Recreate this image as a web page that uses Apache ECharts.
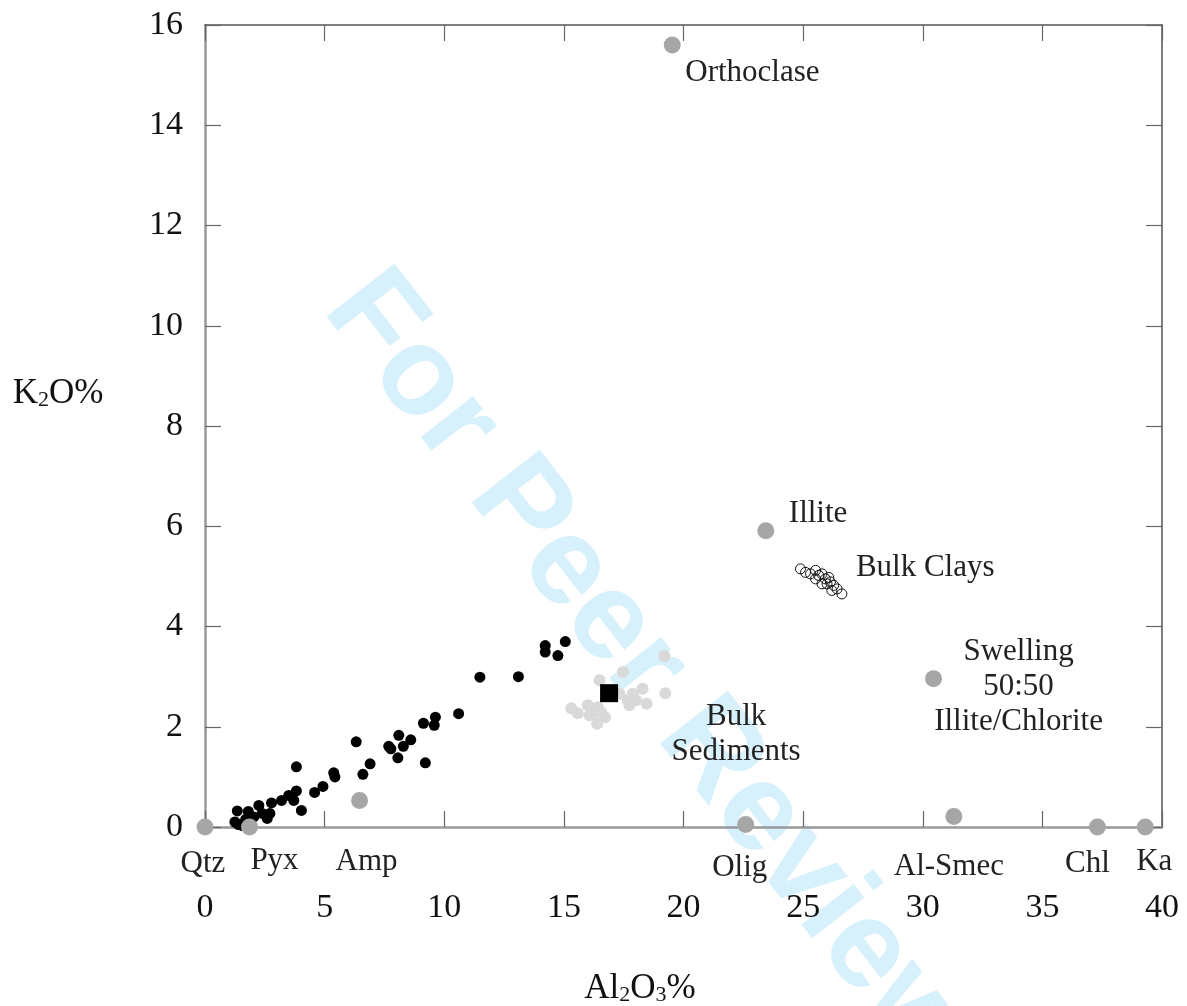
<!DOCTYPE html>
<html>
<head>
<meta charset="utf-8">
<script src="https://cdn.jsdelivr.net/npm/echarts@6/dist/echarts.min.js"></script>
<style>
  html, body { margin: 0; padding: 0; background: #fff; }
  #chart { width: 1187px; height: 1006px; }
</style>
</head>
<body>
<div id="chart"></div>
<script>
// end-member minerals (grey)
const mineralNames = ['Qtz', 'Pyx', 'Amp', 'Orthoclase', 'Illite', 'Swelling\n50:50\nIllite/Chlorite', 'Olig', 'Al-Smec', 'Chl', 'Ka'];
const mineralAl = [0, 1.86, 6.46, 19.53, 23.44, 30.45, 22.6, 31.3, 37.3, 39.3];
const mineralK = [0, 0.0, 0.53, 15.6, 5.91, 2.96, 0.05, 0.21, 0.0, 0.0];

// black dots
const rockAl = [15.06, 14.22, 14.22, 14.75, 11.49, 13.1, 10.6, 9.63, 9.58, 9.13, 8.1, 8.6, 7.68, 8.29, 7.77, 8.06, 9.21,
  6.32, 6.9, 6.6, 5.38, 5.43, 4.93, 4.58, 3.82, 3.82, 4.03, 3.5, 3.2, 3.71, 2.78, 2.71, 2.6, 2.25, 1.81, 1.35, 1.25, 1.56,
  2.04, 1.4, 1.7, 1.9, 2.39];
const rockK = [3.70, 3.62, 3.49, 3.42, 2.99, 3.00, 2.26, 2.19, 2.03, 2.07, 1.83, 1.74, 1.61, 1.61, 1.56, 1.38, 1.28,
  1.70, 1.26, 1.05, 1.08, 1.00, 0.81, 0.69, 1.20, 0.72, 0.33, 0.63, 0.53, 0.53, 0.48, 0.27, 0.17, 0.43, 0.31, 0.32, 0.10, 0.03,
  0.20, 0.05, 0.15, 0.10, 0.27];

// bulk sediments (light grey)
const sedAl = [19.21, 17.46, 16.49, 18.29, 19.24, 17.88, 17.67, 18.02, 18.46, 17.74, 17.32, 15.31, 15.58, 16.0, 16.42, 16.21, 16.56, 16.72, 16.39, 16.07];
const sedK = [3.41, 3.09, 2.93, 2.76, 2.67, 2.66, 2.53, 2.53, 2.46, 2.43, 2.66, 2.37, 2.27, 2.43, 2.39, 2.26, 2.29, 2.19, 2.06, 2.23];

// bulk clays (open circles)
const clayAl = [24.89, 25.1, 25.31, 25.52, 25.65, 25.79, 25.93, 26.0, 26.14, 26.28, 26.42, 25.79, 25.52, 26.07, 26.2, 26.62];
const clayK = [5.15, 5.08, 5.05, 5.12, 5.02, 5.05, 4.95, 4.85, 4.89, 4.82, 4.75, 4.85, 4.95, 4.98, 4.72, 4.65];

// average (black square)
const avgAl = [16.89];
const avgK = [2.67];

const xTicks = [0, 40, 5];
const yTicks = [0, 16, 2];

const serif = 'Liberation Serif';
const zip = (a, b) => a.map((v, i) => [v, b[i]]);

// label placement for mineral names, offsets in px
const labelPlace = {
  'Qtz': { offset: [-2, 37], align: 'center' },
  'Pyx': { offset: [25, 34], align: 'center' },
  'Amp': { offset: [7, 61], align: 'center' },
  'Orthoclase': { offset: [13, 28], align: 'left' },
  'Illite': { offset: [23, -17], align: 'left' },
  'Swelling\n50:50\nIllite/Chlorite': { offset: [85, 8], align: 'center' },
  'Olig': { offset: [-6, 43], align: 'center' },
  'Al-Smec': { offset: [-5, 50], align: 'center' },
  'Chl': { offset: [-10, 37], align: 'center' },
  'Ka': { offset: [9, 35], align: 'center' }
};

const mineralData = mineralNames.map((n, i) => ({
  value: [mineralAl[i], mineralK[i]],
  label: {
    show: true,
    formatter: n,
    position: 'inside',
    offset: labelPlace[n].offset,
    align: labelPlace[n].align,
    verticalAlign: 'middle',
    color: '#222',
    fontFamily: serif,
    fontSize: 31,
    lineHeight: 35
  }
}));

const clayData = zip(clayAl, clayK).map((v, i) => i === clayAl.length - 1 ? {
  value: v,
  label: {
    show: true, formatter: 'Bulk Clays', position: 'inside', offset: [14, -26], align: 'left',
    verticalAlign: 'middle', color: '#222', fontFamily: serif, fontSize: 31
  }
} : v);

const avgData = zip(avgAl, avgK).map(v => ({
  value: v,
  label: {
    show: true, formatter: 'Bulk\nSediments', position: 'inside', offset: [127, 41], align: 'center',
    verticalAlign: 'middle', color: '#222', fontFamily: serif, fontSize: 31, lineHeight: 35
  }
}));

const chart = echarts.init(document.getElementById('chart'));

const axisBase = {
  type: 'value',
  splitLine: { show: false },
  axisTick: { show: true, inside: true, length: 16, lineStyle: { color: '#666', width: 1.2 } }
};

chart.setOption({
  animation: false,
  grid: { left: 205, right: 25, top: 25, bottom: 179 },
  xAxis: [
    Object.assign({}, axisBase, {
      min: xTicks[0], max: xTicks[1], interval: xTicks[2],
      axisLine: { onZero: false, lineStyle: { color: '#999', width: 2.5 } },
      axisLabel: { margin: 64, color: '#111', fontFamily: serif, fontSize: 34 }
    }),
    Object.assign({}, axisBase, {
      position: 'top',
      min: xTicks[0], max: xTicks[1], interval: xTicks[2],
      axisLine: { onZero: false, lineStyle: { color: '#555', width: 1.5 } },
      axisLabel: { show: false }
    })
  ],
  yAxis: [
    Object.assign({}, axisBase, {
      min: yTicks[0], max: yTicks[1], interval: yTicks[2],
      axisLine: { show: true, onZero: false, lineStyle: { color: '#999', width: 2.5 } },
      axisLabel: { margin: 22, color: '#111', fontFamily: serif, fontSize: 34 }
    }),
    Object.assign({}, axisBase, {
      position: 'right',
      min: yTicks[0], max: yTicks[1], interval: yTicks[2],
      axisLine: { show: true, onZero: false, lineStyle: { color: '#555', width: 1.5 } },
      axisLabel: { show: false }
    })
  ],
  graphic: [
    {
      type: 'text', x: 648, y: 672, rotation: -52 * Math.PI / 180, z: -10, silent: true,
      style: {
        text: 'For Peer Review', font: 'bold 125px "Liberation Sans"', fill: '#d6f0fc',
        align: 'center', verticalAlign: 'middle'
      }
    },
    {
      type: 'text', x: 640, y: 985,
      style: {
        text: '{a|Al}{s|2}{a|O}{s|3}{a|%}', align: 'center', verticalAlign: 'middle',
        rich: {
          a: { fontFamily: serif, fontSize: 35, lineHeight: 42, verticalAlign: 'bottom', fill: '#111' },
          s: { fontFamily: serif, fontSize: 22, lineHeight: 22, verticalAlign: 'bottom', fill: '#111' }
        }
      }
    },
    {
      type: 'text', x: 58, y: 390,
      style: {
        text: '{a|K}{s|2}{a|O%}', align: 'center', verticalAlign: 'middle',
        rich: {
          a: { fontFamily: serif, fontSize: 35, lineHeight: 42, verticalAlign: 'bottom', fill: '#111' },
          s: { fontFamily: serif, fontSize: 22, lineHeight: 22, verticalAlign: 'bottom', fill: '#111' }
        }
      }
    }
  ],
  series: [
    {
      name: 'Bulk Sediments', type: 'scatter', clip: false, z: 2,
      symbol: 'circle', symbolSize: 12,
      itemStyle: { color: '#d9d9d9', opacity: 1 },
      data: zip(sedAl, sedK)
    },
    {
      name: 'Rocks', type: 'scatter', clip: false, z: 3,
      symbol: 'circle', symbolSize: 11,
      itemStyle: { color: '#000', opacity: 1 },
      data: zip(rockAl, rockK)
    },
    {
      name: 'Bulk Clays', type: 'scatter', clip: false, z: 3,
      symbol: 'circle', symbolSize: 10,
      itemStyle: { color: 'rgba(255,255,255,0)', borderColor: '#111', borderWidth: 1, opacity: 1 },
      data: clayData
    },
    {
      name: 'Average', type: 'scatter', clip: false, z: 4,
      symbol: 'rect', symbolSize: 18,
      itemStyle: { color: '#000', opacity: 1 },
      data: avgData
    },
    {
      name: 'Minerals', type: 'scatter', clip: false, z: 5,
      symbol: 'circle', symbolSize: 17,
      itemStyle: { color: '#a6a6a6', opacity: 1 },
      data: mineralData
    }
  ]
});
</script>
</body>
</html>
